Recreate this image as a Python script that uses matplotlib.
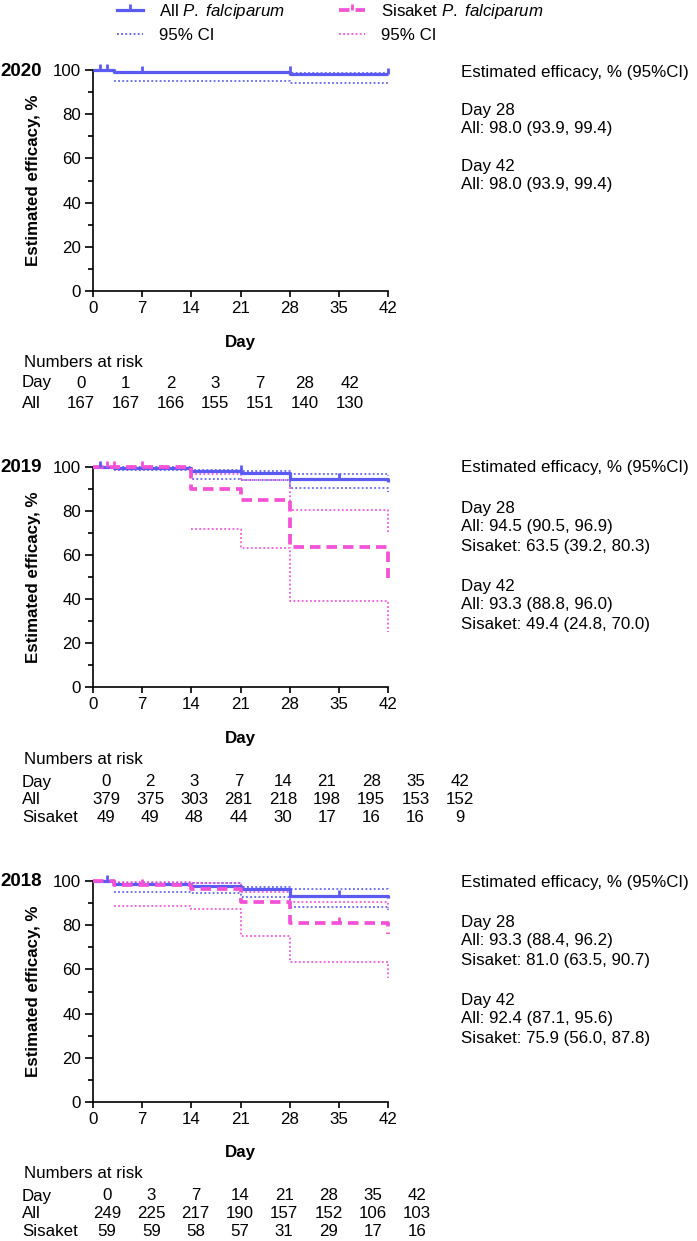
import matplotlib
matplotlib.use('Agg')
import matplotlib.pyplot as plt
from matplotlib.lines import Line2D
from matplotlib.path import Path

plt.rcParams['font.family'] = ['Liberation Sans', 'DejaVu Sans']
plt.rcParams['mathtext.fontset'] = 'custom'
plt.rcParams['mathtext.rm'] = 'Liberation Sans'
plt.rcParams['mathtext.it'] = 'Liberation Sans:italic'
plt.rcParams['mathtext.bf'] = 'Liberation Sans:bold'

# ---------------- data ----------------
years = ['2020', '2019', '2018']

# 2020
all_t_2020 = [0, 3, 28, 42]
all_s_2020 = [100, 99.0, 98.0, 98.0]
all_cens_t_2020 = [1, 2, 7, 28, 42]
all_cens_s_2020 = [100, 100, 99.0, 99.0, 98.0]
all_ci_t_2020 = [3, 28, 42]
all_lo_2020 = [95.2, 93.9, 93.9]
all_hi_2020 = [99.2, 98.5, 98.5]

# 2019
all_t_2019 = [0, 3, 14, 21, 28, 42]
all_s_2019 = [100, 99.5, 98.2, 97.4, 94.5, 93.3]
all_cens_t_2019 = [1, 21, 35]
all_cens_s_2019 = [100, 98.2, 94.5]
all_ci_t_2019 = [3, 14, 21, 28, 42]
all_lo_2019 = [98.6, 94.6, 94.1, 90.5, 88.8]
all_hi_2019 = [99.9, 98.8, 98.0, 96.9, 96.0]
sis_t_2019 = [0, 14, 21, 28, 42]
sis_s_2019 = [100, 89.8, 84.8, 63.5, 49.4]
sis_cens_t_2019 = [2, 3, 7]
sis_cens_s_2019 = [100, 100, 100]
sis_ci_t_2019 = [14, 21, 28, 42]
sis_lo_2019 = [72.0, 63.3, 39.2, 24.8]
sis_hi_2019 = [96.8, 94.0, 80.3, 70.0]

# 2018
all_t_2018 = [0, 3, 14, 21, 28, 42]
all_s_2018 = [100, 98.5, 97.9, 96.4, 93.3, 92.4]
all_cens_t_2018 = [2, 35]
all_cens_s_2018 = [100, 93.3]
all_ci_t_2018 = [3, 14, 21, 28, 42]
all_lo_2018 = [95.2, 94.4, 92.6, 88.4, 87.1]
all_hi_2018 = [99.0, 98.9, 97.5, 96.2, 95.6]
sis_t_2018 = [0, 3, 14, 21, 28, 42]
sis_s_2018 = [100, 98.3, 96.6, 90.5, 81.0, 75.9]
sis_cens_t_2018 = [7, 35]
sis_cens_s_2018 = [98.3, 81.0]
sis_ci_t_2018 = [3, 14, 21, 28, 42]
sis_lo_2018 = [88.8, 87.2, 75.1, 63.5, 56.0]
sis_hi_2018 = [99.4, 99.2, 95.0, 90.7, 87.8]

# numbers at risk
risk_days_2020 = [0, 1, 2, 3, 7, 28, 42]
risk_all_2020 = [167, 167, 166, 155, 151, 140, 130]
risk_days_2019 = [0, 2, 3, 7, 14, 21, 28, 35, 42]
risk_all_2019 = [379, 375, 303, 281, 218, 198, 195, 153, 152]
risk_sis_2019 = [49, 49, 48, 44, 30, 17, 16, 16, 9]
risk_days_2018 = [0, 3, 7, 14, 21, 28, 35, 42]
risk_all_2018 = [249, 225, 217, 190, 157, 152, 106, 103]
risk_sis_2018 = [59, 59, 58, 57, 31, 29, 17, 16]

# efficacy summaries
eff_2020 = ['Estimated efficacy, % (95%CI)', 'Day 28', 'All: 98.0 (93.9, 99.4)',
            'Day 42', 'All: 98.0 (93.9, 99.4)']
eff_2019 = ['Estimated efficacy, % (95%CI)', 'Day 28', 'All: 94.5 (90.5, 96.9)',
            'Sisaket: 63.5 (39.2, 80.3)', 'Day 42', 'All: 93.3 (88.8, 96.0)',
            'Sisaket: 49.4 (24.8, 70.0)']
eff_2018 = ['Estimated efficacy, % (95%CI)', 'Day 28', 'All: 93.3 (88.4, 96.2)',
            'Sisaket: 81.0 (63.5, 90.7)', 'Day 42', 'All: 92.4 (87.1, 95.6)',
            'Sisaket: 75.9 (56.0, 87.8)']

# ---------------- style ----------------
W, H = 697, 1241
BLUE = '#5b5bf3'
PINK = '#f452d6'
FS = 12.2
TICK = Path([(0, 0), (0, 1)], [Path.MOVETO, Path.LINETO])
DOT = (0, (1.0, 1.3))
DASH = (0, (2.8, 1.6))

fig = plt.figure(figsize=(W / 100, H / 100), dpi=100)


def fx(x):
    return x / W


def fy(y):
    return 1 - y / H


def panel(top, bottom, year, curves, risk_days, risk_rows, eff_lines, eff_ys,
          risk_y, col0, colstep):
    ax = fig.add_axes([fx(93), fy(bottom), (388 - 93) / W, (bottom - top) / H])
    ax.set_xlim(0, 42)
    ax.set_ylim(0, 100)
    ax.set_xticks(range(0, 43, 7))
    ax.set_yticks(range(0, 101, 20))
    ax.set_yticks(range(10, 100, 20), minor=True)
    for s in ['top', 'right']:
        ax.spines[s].set_visible(False)
    for s in ['left', 'bottom']:
        ax.spines[s].set_linewidth(1.2)
    ax.tick_params(axis='both', which='major', labelsize=FS, width=1.2)
    ax.tick_params(axis='y', which='major', length=6, pad=2.5)
    ax.tick_params(axis='y', which='minor', length=3.5, width=1.2)
    ax.tick_params(axis='x', which='major', length=4.5, pad=3)
    ax.set_xlabel('Day', fontsize=FS, fontweight='bold')
    ax.xaxis.set_label_coords(0.5, -51 / (bottom - top))
    ax.xaxis.label.set_verticalalignment('center')

    # CIs first
    for c in curves:
        color, ci_t, lo, hi = c['color'], c['ci_t'], c['lo'], c['hi']
        for v in (lo, hi):
            ax.step(ci_t, v, where='post', color=color, lw=1.3, ls=DOT,
                    clip_on=False, zorder=2, alpha=0.95)
    for c in curves:
        if c['kind'] == 'all':
            ax.step(c['t'], c['s'], where='post', color=c['color'], lw=2.3,
                    clip_on=False, zorder=3, solid_capstyle='butt')
        else:
            ax.step(c['t'], c['s'], where='post', color=c['color'], lw=2.7,
                    ls=DASH, clip_on=False, zorder=4, dash_capstyle='butt')
        ax.plot(c['ct'], c['cs'], ls='none', marker=TICK, ms=9, mew=2.0,
                color=c['color'], clip_on=False, zorder=5)

    # year label and y label
    fig.text(fx(0), fy(top + 1), year, fontsize=13.5, fontweight='bold',
             ha='left', va='center')
    fig.text(fx(34), fy((top + bottom) / 2), 'Estimated efficacy, %',
             fontsize=FS, fontweight='bold', rotation=90, ha='center', va='center')

    # numbers at risk
    fig.text(fx(24), fy(risk_y[0]), 'Numbers at risk', fontsize=FS,
             ha='left', va='center')
    rows = [('Day', risk_days)] + risk_rows
    for (lab, vals), yy in zip(rows, risk_y[1:]):
        fig.text(fx(22), fy(yy), lab, fontsize=FS, ha='left', va='center')
        for i, v in enumerate(vals):
            fig.text(fx(col0 + colstep * i), fy(yy), str(v), fontsize=FS,
                     ha='center', va='center')

    # efficacy summary
    for line, yy in zip(eff_lines, eff_ys):
        fig.text(fx(461), fy(yy), line, fontsize=FS, ha='left', va='center')
    return ax


def curve(kind, t, s, ct, cs, ci_t, lo, hi):
    return dict(kind=kind, color=BLUE if kind == 'all' else PINK, t=t, s=s,
                ct=ct, cs=cs, ci_t=ci_t, lo=lo, hi=hi)


panel(70, 291, years[0],
      [curve('all', all_t_2020, all_s_2020, all_cens_t_2020, all_cens_s_2020,
             all_ci_t_2020, all_lo_2020, all_hi_2020)],
      risk_days_2020, [('All', risk_all_2020)],
      eff_2020, [72, 110, 129, 166, 185],
      [362, 383, 403], 81, 44.8)

panel(467, 687, years[1],
      [curve('all', all_t_2019, all_s_2019, all_cens_t_2019, all_cens_s_2019,
             all_ci_t_2019, all_lo_2019, all_hi_2019),
       curve('sis', sis_t_2019, sis_s_2019, sis_cens_t_2019, sis_cens_s_2019,
             sis_ci_t_2019, sis_lo_2019, sis_hi_2019)],
      risk_days_2019, [('All', risk_all_2019), ('Sisaket', risk_sis_2019)],
      eff_2019, [468, 508, 527, 546, 586, 605, 624],
      [760, 782, 800, 817], 106, 44.2)

panel(881, 1102, years[2],
      [curve('all', all_t_2018, all_s_2018, all_cens_t_2018, all_cens_s_2018,
             all_ci_t_2018, all_lo_2018, all_hi_2018),
       curve('sis', sis_t_2018, sis_s_2018, sis_cens_t_2018, sis_cens_s_2018,
             sis_ci_t_2018, sis_lo_2018, sis_hi_2018)],
      risk_days_2018, [('All', risk_all_2018), ('Sisaket', risk_sis_2018)],
      eff_2018, [883, 922, 941, 960, 1000, 1019, 1038],
      [1173, 1196, 1214, 1232], 107, 44.3)

# legend
handles = [
    Line2D([], [], color=BLUE, lw=2.3, marker=TICK, ms=9, mew=2.0),
    Line2D([], [], color=BLUE, lw=1.3, ls=DOT),
    Line2D([], [], color=PINK, lw=2.7, ls=DASH, marker=TICK, ms=9, mew=2.0),
    Line2D([], [], color=PINK, lw=1.3, ls=DOT),
]
labels = [r'All $\mathit{P.\ falciparum}$', '95% CI',
          r'Sisaket $\mathit{P.\ falciparum}$', '95% CI']
fig.legend(handles, labels, ncol=2, loc='upper left',
           bbox_to_anchor=(fx(117), fy(2)), frameon=False, fontsize=FS,
           handlelength=1.56, handletextpad=0.9, columnspacing=3.2,
           labelspacing=0.4, borderpad=0, borderaxespad=0)

fig.savefig('out.png', dpi=100)
